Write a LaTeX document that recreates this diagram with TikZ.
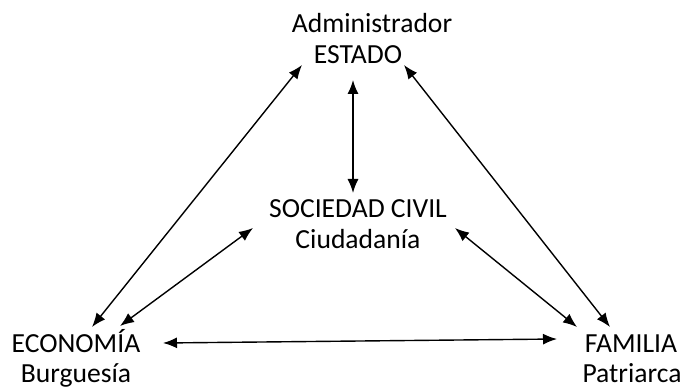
\documentclass[tikz,border=0pt]{standalone}
\usepackage{fontspec}
\setmainfont{Carlito}
\usetikzlibrary{arrows.meta}

\begin{document}
\begin{tikzpicture}[x=1pt, y=-1pt,
    lbl/.style={anchor=base, inner sep=0pt, font=\fontsize{27.6}{31}\selectfont},
    link/.style={{Latex[length=14pt,width=11pt]}-{Latex[length=14pt,width=11pt]}, line width=1.4pt}]
  \useasboundingbox (0,0) rectangle (684,387);
  % the four actors
  \node[lbl] (admin) at (372,33) {Administrador};
  \node[lbl] (estado) at (358,64) {ESTADO};
  \node[lbl] (sociedad) at (358,217) {SOCIEDAD CIVIL};
  \node[lbl] (ciudad) at (358,248) {Ciudadanía};
  \node[lbl] (economia) at (76,352) {ECONOMÍA};
  \node[lbl] (burgues) at (76,382) {Burguesía};
  \node[lbl] (familia) at (631,352) {FAMILIA};
  \node[lbl] (patri) at (632,382) {Patriarca};
  % arrow ends
  \coordinate (estSW) at (302,65);
  \coordinate (estS) at (353,80);
  \coordinate (estSE) at (404,65);
  \coordinate (socN) at (353,193);
  \coordinate (socW) at (253,228);
  \coordinate (socE) at (455,228);
  \coordinate (ecoA) at (92,327);
  \coordinate (ecoB) at (120,326);
  \coordinate (ecoE) at (163,343);
  \coordinate (famA) at (577,327);
  \coordinate (famB) at (610,327);
  \coordinate (famW) at (557,339);
  \draw[link] (estSW) -- (ecoA);
  \draw[link] (estS) -- (socN);
  \draw[link] (estSE) -- (famB);
  \draw[link] (socW) -- (ecoB);
  \draw[link] (socE) -- (famA);
  \draw[link] (ecoE) -- (famW);
\end{tikzpicture}
\end{document}
